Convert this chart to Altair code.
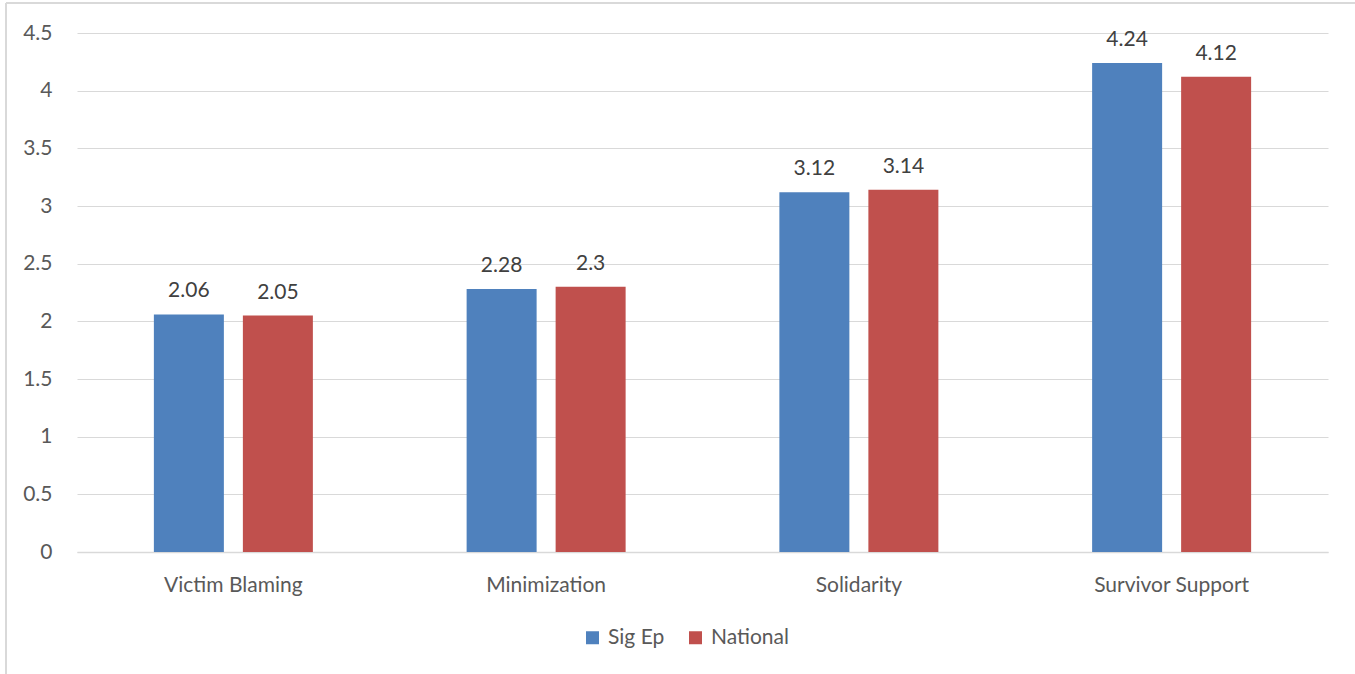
import altair as alt
import pandas as pd

categories = ["Victim Blaming", "Minimization", "Solidarity", "Survivor Support"]
series = ["Sig Ep", "National"]
sig_ep = [2.06, 2.28, 3.12, 4.24]
national = [2.05, 2.3, 3.14, 4.12]
colors = ["#4F81BD", "#C0504D"]

rows = []
for c, a, b in zip(categories, sig_ep, national):
    rows.append({"category": c, "series": "Sig Ep", "value": a})
    rows.append({"category": c, "series": "National", "value": b})
df = pd.DataFrame(rows)

FONT = "Lato"
FS = 21
W, H = 1251, 519

x_enc = alt.X("category:N", sort=categories,
              scale=alt.Scale(paddingInner=0.4916, paddingOuter=0.2458),
              axis=alt.Axis(title=None, labelAngle=0, ticks=False, domain=True, grid=False,
                            domainColor="#d9d9d9", domainWidth=1.5,
                            labelFont=FONT, labelFontSize=FS, labelColor="#595959",
                            labelBaseline="alphabetic", labelPadding=39))
xo_enc = alt.XOffset("series:N", sort=series,
                     scale=alt.Scale(paddingInner=0.2135, paddingOuter=0))
y_enc = alt.Y("value:Q", scale=alt.Scale(domain=[0, 4.5], nice=False),
              axis=alt.Axis(title=None, values=[0, 0.5, 1, 1.5, 2, 2.5, 3, 3.5, 4, 4.5],
                            format=".1~f", domain=False, ticks=False,
                            gridColor="#d9d9d9", gridWidth=1.2,
                            labelFont=FONT, labelFontSize=FS, labelColor="#595959",
                            labelPadding=25))

bars = alt.Chart(df).mark_bar().encode(
    x=x_enc, xOffset=xo_enc, y=y_enc,
    color=alt.Color("series:N", sort=series,
                    scale=alt.Scale(domain=series, range=colors),
                    legend=alt.Legend(title=None, orient="none", direction="horizontal",
                                      legendX=505, legendY=594,
                                      symbolType="square", symbolSize=169,
                                      symbolStrokeWidth=0, columnPadding=20,
                                      labelFont=FONT, labelFontSize=FS,
                                      labelColor="#595959", labelOffset=5)),
)

labels = alt.Chart(df).mark_text(baseline="alphabetic", dy=-17, font=FONT,
                                 fontSize=FS, color="#404040").encode(
    x=alt.X("category:N", sort=categories),
    xOffset=alt.XOffset("series:N", sort=series),
    y="value:Q",
    text=alt.Text("value:Q", format="~g"),
)

border_top = alt.Chart(df).mark_rule(color="#d9d9d9", strokeWidth=1.5, clip=False).encode(
    x=alt.value(-71), x2=alt.value(1278), y=alt.value(-30))
border_left = alt.Chart(df).mark_rule(color="#d9d9d9", strokeWidth=1.5, clip=False).encode(
    x=alt.value(-71), y=alt.value(-30), y2=alt.value(641))

chart = alt.layer(bars, labels, border_top, border_left).properties(
    width=W, height=H,
    background="white",
    autosize=alt.AutoSizeParams(type="none"),
    padding={"left": 77, "top": 33, "right": 27, "bottom": 122},
).configure_view(stroke="transparent", strokeWidth=0).configure_axisX(grid=False)

chart.save("out.html", embed_options={"renderer": "svg", "actions": False})
